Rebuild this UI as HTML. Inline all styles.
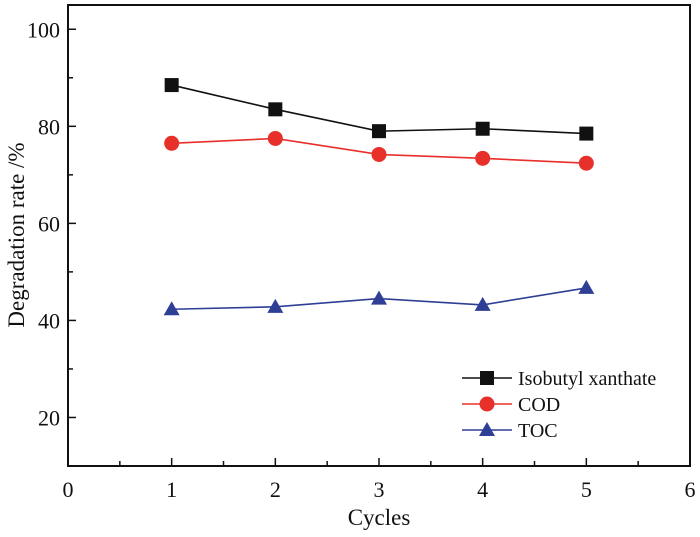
<!DOCTYPE html>
<html><head><meta charset="utf-8"><style>
body{margin:0;background:#fff}
text{font-family:"Liberation Serif",serif;fill:#111}
</style></head><body>
<svg id="c" width="700" height="532" xmlns="http://www.w3.org/2000/svg"></svg>
<script>
const cycles=[1,2,3,4,5];
const xanthate=[88.5,83.5,79.0,79.5,78.5];
const cod=[76.5,77.5,74.2,73.4,72.4];
const toc=[42.3,42.8,44.5,43.2,46.7];
const xTicks=[0,1,2,3,4,5,6];
const yTicks=[20,40,60,80,100];
const L=68,R=690,T=5,B=466,XMIN=0,XMAX=6,YMIN=10,YMAX=105;
const sx=v=>L+(v-XMIN)/(XMAX-XMIN)*(R-L);
const sy=v=>B-(v-YMIN)/(YMAX-YMIN)*(B-T);
const svg=document.getElementById('c');
const NS='http://www.w3.org/2000/svg';
function mk(t,a,p){const e=document.createElementNS(NS,t);for(const k in a)e.setAttribute(k,a[k]);(p||svg).appendChild(e);return e;}
let e=mk('rect',{x:L,y:T,width:R-L,height:B-T,fill:'none',stroke:'#111','stroke-width':2});


for(let v=0;v<=6;v+=0.5){const m=Number.isInteger(v);
 e=mk('line',{x1:sx(v),x2:sx(v),y1:B,y2:B-(m?8:5),stroke:'#111','stroke-width':1.5});
 
 }
xTicks.forEach(v=>{e=mk('text',{x:sx(v),y:B+31,'font-size':22,'text-anchor':'middle'});e.textContent=v;
 
 });
for(let v=20;v<=100;v+=10){const m=v%20==0;
 e=mk('line',{x1:L,x2:L+(m?8:5),y1:sy(v),y2:sy(v),stroke:'#111','stroke-width':1.5});
 
 }
yTicks.forEach(v=>{e=mk('text',{x:L-8,y:sy(v)+8,'font-size':22,'text-anchor':'end'});e.textContent=v;
 
 });
e=mk('text',{x:379,y:525,'font-size':23,'text-anchor':'middle'});e.textContent='Cycles';


e=mk('text',{x:0,y:0,'font-size':23,'text-anchor':'middle',transform:'translate(24,235) rotate(-90)'});e.textContent='Degradation rate /%';


function marker(type,x,y,col,p){
 if(type=='sq')return mk('rect',{x:x-7,y:y-7,width:14,height:14,fill:col},p);
 if(type=='ci')return mk('circle',{cx:x,cy:y,r:7.5,fill:col},p);
 return mk('polygon',{points:`${x},${y-8} ${x-8},${y+6} ${x+8},${y+6}`,fill:col},p);}
const series=[['xanthate',xanthate,'#111','sq','Isobutyl xanthate'],['cod',cod,'#e8302a','ci','COD'],['toc',toc,'#2f3f96','tr','TOC']];
series.forEach(([n,d,col,m,lab],i)=>{
 const g=mk('g',{});
 
 
 e=mk('polyline',{points:d.map((v,j)=>sx(cycles[j])+','+sy(v)).join(' '),fill:'none',stroke:col,'stroke-width':1.6},g);
 
 
 d.forEach((v,j)=>{e=marker(m,sx(cycles[j]),sy(v),col,g);
  
  });
 const ly=378+i*26;
 const lg=mk('g',{});
 
 
 mk('line',{x1:462,x2:512,y1:ly,y2:ly,stroke:col,'stroke-width':1.6},lg);
 marker(m,487,ly,col,lg);
 const t=mk('text',{x:518,y:ly+7,'font-size':20},lg);t.textContent=lab;
});
</script>
</body></html>
